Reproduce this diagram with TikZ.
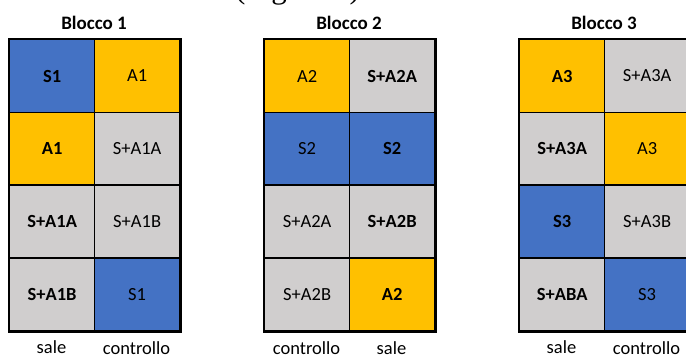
\documentclass[tikz,border=0pt]{standalone}
\usepackage{fontspec}
\setmainfont{Carlito}
\newfontfamily\figserif{Liberation Serif}
\definecolor{cblue}{HTML}{4472C4}
\definecolor{cgold}{HTML}{FFC000}
\definecolor{cgray}{HTML}{D0CECE}
\begin{document}
\begin{tikzpicture}[x=1pt,y=-1pt,
  cell/.style={draw=black,line width=1.3pt,minimum width=85pt,minimum height=72.75pt,
    inner sep=0pt,anchor=north west,font=\fontsize{18.5}{22}\selectfont},
  bl/.style={cell,fill=cblue},
  go/.style={cell,fill=cgold},
  gr/.style={cell,fill=cgray},
  bf/.style={font=\fontsize{18.5}{22}\selectfont\bfseries},
  frame/.style={draw=black,line width=2.6pt},
  hd/.style={anchor=base,inner sep=0pt,font=\fontsize{19}{22}\selectfont\bfseries},
  lab/.style={anchor=base,inner sep=0pt,font=\fontsize{18.5}{22}\selectfont}]
\useasboundingbox (0,0) rectangle (686,358);
\clip (0,0) rectangle (686,358);
\fill[white] (0,0) rectangle (686,358);
% cut-off caption at top
\node[anchor=base west,inner sep=0pt,font=\fontsize{31}{34}\figserif] (fig) at (235,-1.5) {(Figura 1)};
% Blocco 1
\node[hd] (t1) at (94,30) {Blocco 1};
\node[bl,bf] (b1r1c1) at (9,39) {S1};
\node[go] (b1r1c2) at (94,39) {A1};
\node[go,bf] (b1r2c1) at (9,111.75) {A1};
\node[gr] (b1r2c2) at (94,111.75) {S+A1A};
\node[gr,bf] (b1r3c1) at (9,184.5) {S+A1A};
\node[gr] (b1r3c2) at (94,184.5) {S+A1B};
\node[gr,bf] (b1r4c1) at (9,257.25) {S+A1B};
\node[bl] (b1r4c2) at (94,257.25) {S1};
\draw[frame] (b1r1c1.north west) rectangle (b1r4c2.south east);
\node[lab] (l11) at (51.5,353) {sale};
\node[lab] (l12) at (136.5,355) {controllo};
% Blocco 2
\node[hd] (t2) at (349,30) {Blocco 2};
\node[go] (b2r1c1) at (264,39) {A2};
\node[gr,bf] (b2r1c2) at (349,39) {S+A2A};
\node[bl] (b2r2c1) at (264,111.75) {S2};
\node[bl,bf] (b2r2c2) at (349,111.75) {S2};
\node[gr] (b2r3c1) at (264,184.5) {S+A2A};
\node[gr,bf] (b2r3c2) at (349,184.5) {S+A2B};
\node[gr] (b2r4c1) at (264,257.25) {S+A2B};
\node[go,bf] (b2r4c2) at (349,257.25) {A2};
\draw[frame] (b2r1c1.north west) rectangle (b2r4c2.south east);
\node[lab] (l21) at (306.5,355) {controllo};
\node[lab] (l22) at (391.5,355) {sale};
% Blocco 3
\node[hd] (t3) at (604,30) {Blocco 3};
\node[go,bf] (b3r1c1) at (519,39) {A3};
\node[gr] (b3r1c2) at (604,39) {S+A3A};
\node[gr,bf] (b3r2c1) at (519,111.75) {S+A3A};
\node[go] (b3r2c2) at (604,111.75) {A3};
\node[bl,bf] (b3r3c1) at (519,184.5) {S3};
\node[gr] (b3r3c2) at (604,184.5) {S+A3B};
\node[gr,bf] (b3r4c1) at (519,257.25) {S+ABA};
\node[bl] (b3r4c2) at (604,257.25) {S3};
\draw[frame] (b3r1c1.north west) rectangle (b3r4c2.south east);
\node[lab] (l31) at (561.5,353) {sale};
\node[lab] (l32) at (646.5,355) {controllo};
\end{tikzpicture}
\end{document}
